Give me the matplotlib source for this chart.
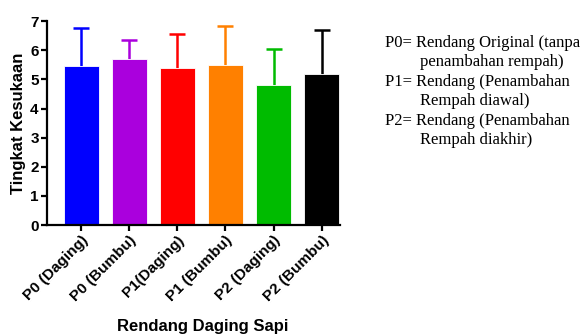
import numpy as np
import matplotlib
matplotlib.use("Agg")
import matplotlib.pyplot as plt

categories = ["P0 (Daging)", "P0 (Bumbu)", "P1(Daging)",
              "P1 (Bumbu)", "P2 (Daging)", "P2 (Bumbu)"]
means = [5.45, 5.70, 5.39, 5.49, 4.80, 5.18]
sd = [1.31, 0.65, 1.16, 1.34, 1.24, 1.51]
colors = ["#0000ff", "#aa00dd", "#ff0000", "#ff8000", "#00bb00", "#000000"]
notes = [("P0= Rendang Original (tanpa", 0), ("penambahan rempah)", 1),
         ("P1= Rendang (Penambahan", 0), ("Rempah diawal)", 1),
         ("P2= Rendang (Penambahan", 0), ("Rempah diakhir)", 1)]


def main():
    plt.rcParams['font.family'] = ['Liberation Sans', 'DejaVu Sans']
    fig = plt.figure(figsize=(5.81, 3.34), dpi=100)
    ax = fig.add_axes([0.081, 0.326, 0.504, 0.611])

    x = np.arange(len(categories))
    ax.bar(x, means, width=0.73, color=colors, edgecolor="white",
           linewidth=0.6, zorder=2)
    for xi, m, s, c in zip(x, means, sd, colors):
        eb = ax.errorbar(xi, m, yerr=[[0], [s]], fmt="none", ecolor=c,
                         elinewidth=1.8, capsize=6, capthick=1.8, zorder=1)
        # hide the cap sitting on the bar top
        for cap in eb[1]:
            if cap.get_ydata()[0] <= m + 1e-9:
                cap.set_visible(False)

    ax.set_xlim(-0.71, 5.38)
    ax.set_ylim(0, 7)
    ax.set_yticks(range(8))
    ax.set_xticks(x)
    ax.set_xticklabels(categories, rotation=45, ha="right",
                       rotation_mode="anchor", fontweight="bold", fontsize=11)
    for lbl in ax.get_yticklabels():
        lbl.set_fontweight("bold")
        lbl.set_fontsize(11)
    ax.spines["top"].set_visible(False)
    ax.spines["right"].set_visible(False)
    ax.spines["left"].set_linewidth(1.6)
    ax.spines["bottom"].set_linewidth(1.6)
    ax.tick_params(width=1.6, length=4, pad=2)
    ax.set_ylabel("Tingkat Kesukaan", fontsize=12, fontweight="bold",
                  labelpad=3)
    fig.text(0.348, 1 - 327 / 334, "Rendang Daging Sapi", fontsize=12,
             fontweight="bold", ha="center", va="center")

    y0 = 1 - 43 / 334
    for i, (t, indent) in enumerate(notes):
        fig.text((385 + 35 * indent) / 581, y0 - i * 19.4 / 334, t,
                 fontsize=12, family="Liberation Serif", va="center",
                 ha="left")

    fig.savefig("out.png", dpi=100)


if __name__ == "__main__":
    main()
